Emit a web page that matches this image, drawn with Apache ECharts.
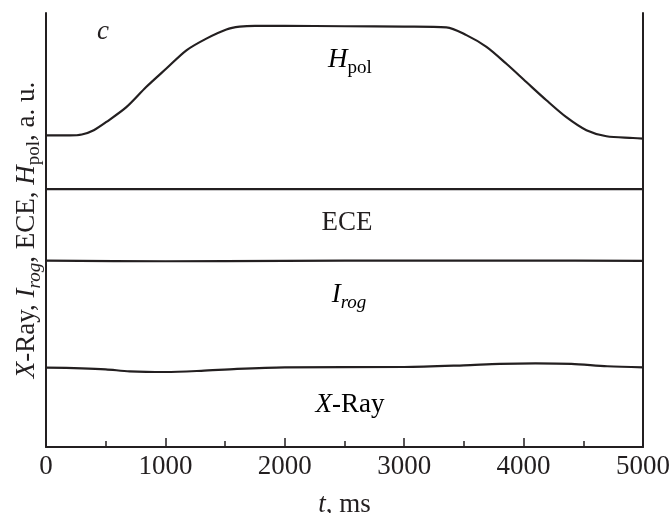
<!DOCTYPE html>
<html><head><meta charset="utf-8">
<script src="https://cdn.jsdelivr.net/npm/echarts@6/dist/echarts.min.js"></script>
<style>html,body{margin:0;padding:0;background:#fff}#c{width:672px;height:513px}</style>
</head><body><div id="c"></div>
<script>
// ---- data (time in ms, signals in arbitrary units) ----
const xTicks = [0, 1000, 2000, 3000, 4000, 5000];
const hpolT = [0, 200, 300, 400, 506, 673, 841, 1008, 1176, 1343, 1511, 1622, 1750, 2000, 2500, 3000, 3353, 3521, 3689, 3856, 4023, 4191, 4358, 4526, 4694, 4916, 5000];
const hpolV = [71.8, 71.8, 72.0, 73.0, 74.9, 78.3, 83.0, 87.2, 91.4, 94.1, 96.2, 96.85, 97.05, 97.05, 96.95, 96.87, 96.7, 94.9, 92.2, 88.3, 84.1, 79.9, 76.0, 73.0, 71.6, 71.2, 71.05];
const eceT = [0, 1000, 2000, 3000, 4000, 5000];
const eceV = [59.4, 59.4, 59.4, 59.4, 59.4, 59.4];
const irogT = [0, 1000, 2000, 3000, 4000, 5000];
const irogV = [42.95, 42.8, 42.9, 42.95, 42.95, 42.9];
const xrayT = [0, 300, 500, 700, 1000, 1300, 1600, 2000, 3000, 3500, 3800, 4100, 4400, 4700, 5000];
const xrayV = [18.29, 18.13, 17.9, 17.44, 17.28, 17.56, 18.02, 18.36, 18.43, 18.82, 19.17, 19.29, 19.17, 18.6, 18.36];

const INK = '#231f20';
const FONT = 'Liberation Serif';
const FS = 27;

function pairs(t, v) { return t.map((x, i) => [x, v[i]]); }
function lineSeries(name, t, v) {
  return {
    name, type: 'line', data: pairs(t, v), showSymbol: false, symbol: 'none',
    smooth: 0.3,
    lineStyle: { color: INK, width: 2.2 }, silent: true, animation: false
  };
}

const richBase = {
  n: { fontFamily: FONT, fontSize: FS, color: INK, lineHeight: FS },
  i: { fontFamily: FONT, fontSize: FS, color: INK, fontStyle: 'italic', lineHeight: FS },
  s: { fontFamily: FONT, fontSize: 19, color: INK, lineHeight: 19, padding: [16, 0, 0, 0], verticalAlign: 'middle' },
  is: { fontFamily: FONT, fontSize: 19, color: INK, fontStyle: 'italic', lineHeight: 19, padding: [16, 0, 0, 0], verticalAlign: 'middle' }
};

const chart = echarts.init(document.getElementById('c'), null, { renderer: 'canvas' });
chart.setOption({
  backgroundColor: '#fff',
  animation: false,
  grid: { left: 46, right: 29, top: 13, bottom: 66, containLabel: false, outerBoundsMode: 'none' },
  xAxis: {
    type: 'value', min: xTicks[0], max: xTicks[xTicks.length - 1], interval: 1000,
    axisLine: { show: true, onZero: false, lineStyle: { color: INK, width: 2 } },
    axisTick: { show: true, inside: true, length: 9, lineStyle: { color: INK, width: 1.5 } },
    minorTick: { show: true, splitNumber: 2, length: 6, lineStyle: { color: INK, width: 1.5 } },
    splitLine: { show: false },
    axisLabel: { fontFamily: FONT, fontSize: FS, color: INK, margin: 6, formatter: v => String(v) },
    name: '{i|t}{n|, ms}', nameLocation: 'middle', nameGap: 44,
    nameTextStyle: { rich: richBase }
  },
  yAxis: [{
    type: 'value', min: 0, max: 100,
    axisLine: { show: true, onZero: false, lineStyle: { color: INK, width: 2 } },
    axisTick: { show: false }, axisLabel: { show: false }, splitLine: { show: false },
    name: '{i|X}{n|-Ray, }{i|I}{is|rog}{n|, ECE, }{i|H}{s|pol}{n|, a. u.}',
    nameLocation: 'middle', nameGap: 6,
    nameTextStyle: { rich: richBase }
  }, {
    type: 'value', min: 0, max: 100, position: 'right',
    axisLine: { show: true, onZero: false, lineStyle: { color: INK, width: 2 } },
    axisTick: { show: false }, axisLabel: { show: false }, splitLine: { show: false }
  }],
  graphic: [
    { type: 'text', x: 103, y: 32, style: { text: 'c', fontFamily: FONT, fontSize: FS, fontStyle: 'italic', fill: INK, align: 'center', verticalAlign: 'middle' } },
    { type: 'text', x: 350, y: 60, style: { text: '{i|H}{s|pol}', rich: richBase, align: 'center', verticalAlign: 'middle' } },
    { type: 'text', x: 347, y: 223, style: { text: 'ECE', fontFamily: FONT, fontSize: FS, fill: INK, align: 'center', verticalAlign: 'middle' } },
    { type: 'text', x: 349, y: 295, style: { text: '{i|I}{is|rog}', rich: richBase, align: 'center', verticalAlign: 'middle' } },
    { type: 'text', x: 350, y: 405, style: { text: '{i|X}{n|-Ray}', rich: richBase, align: 'center', verticalAlign: 'middle' } }
  ],
  series: [
    lineSeries('Hpol', hpolT, hpolV),
    lineSeries('ECE', eceT, eceV),
    lineSeries('Irog', irogT, irogV),
    lineSeries('X-Ray', xrayT, xrayV)
  ]
});
</script>
</body></html>
